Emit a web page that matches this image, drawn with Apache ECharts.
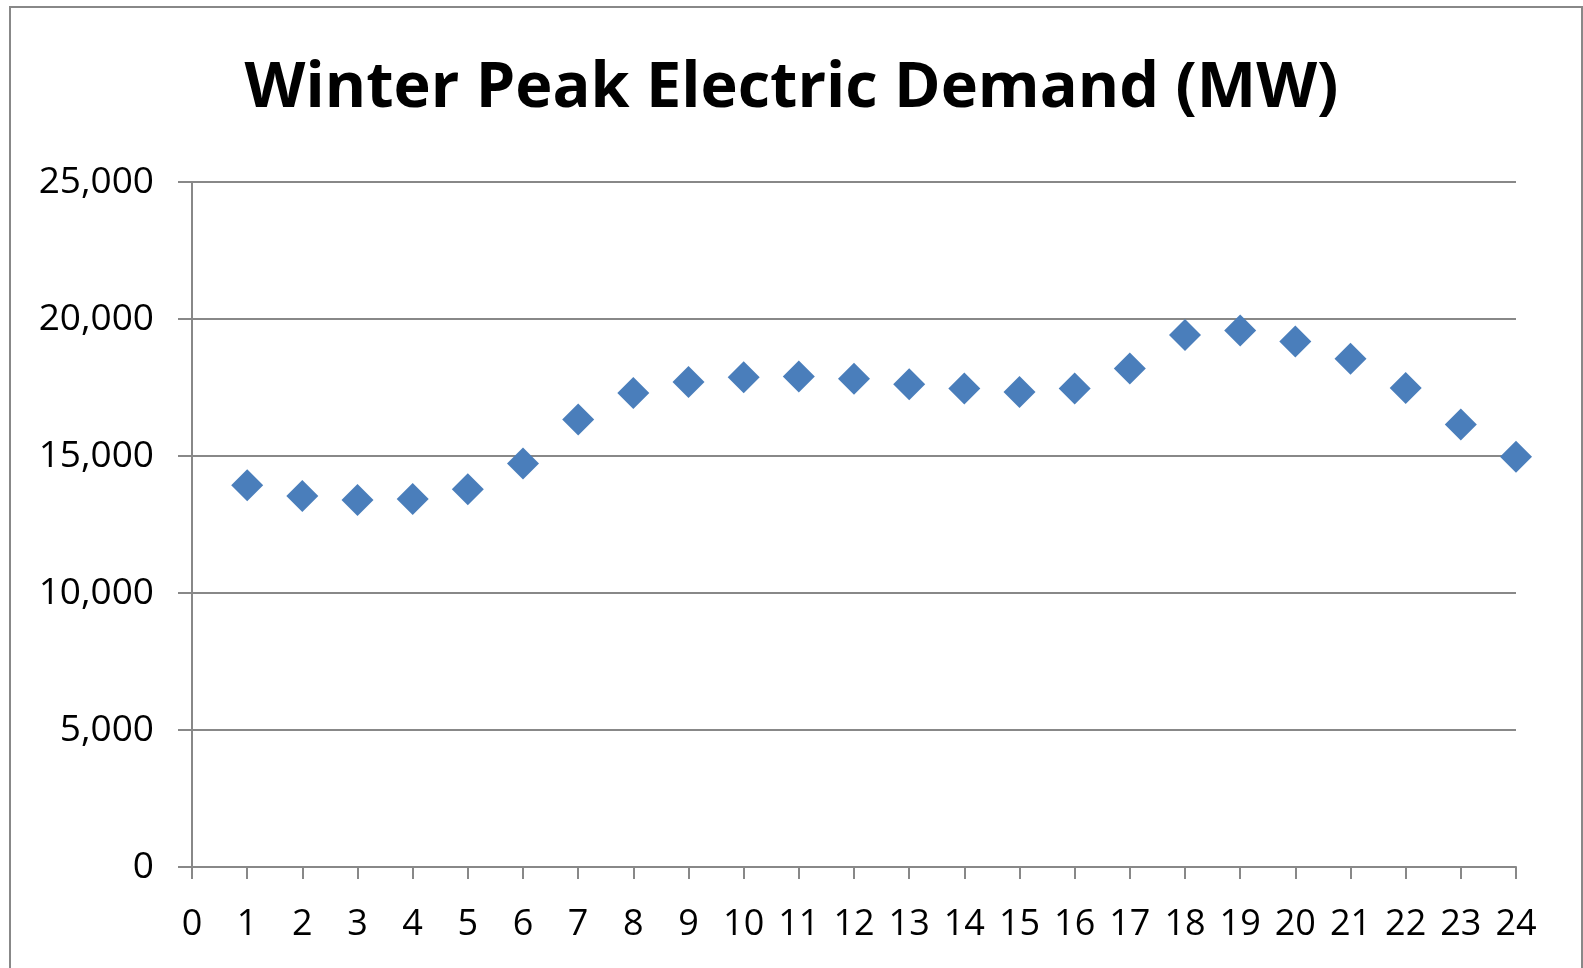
<!DOCTYPE html>
<html>
<head>
<meta charset="utf-8">
<script src="https://cdn.jsdelivr.net/npm/echarts@6/dist/echarts.min.js"></script>
<style>
html, body { margin: 0; padding: 0; background: #fff; }
#container { width: 1583px; height: 968px; }
</style>
</head>
<body>
<div id="container"></div>
<script>
var hours = [1, 2, 3, 4, 5, 6, 7, 8, 9, 10, 11, 12, 13, 14, 15, 16, 17, 18, 19, 20, 21, 22, 23, 24];
var demandMW = [13930, 13540, 13390, 13430, 13790, 14730, 16330, 17300, 17700, 17870, 17900, 17820,
                17620, 17460, 17340, 17460, 18190, 19420, 19580, 19180, 18550, 17480, 16150, 14970];
var titleText = 'Winter Peak Electric Demand (MW)';

var dom = document.getElementById("container");
var myChart = echarts.init(dom);
var option = null;

var points = hours.map(function (h, i) { return [h, demandMW[i]]; });

option = {
    animation: false,
    textStyle: {
        fontFamily: 'Open Sans'
    },
    graphic: [
        {
            type: 'rect',
            shape: {x: 10, y: 7, width: 1572, height: 980},
            style: {fill: 'none', stroke: '#888888', lineWidth: 2},
            silent: true
        }
    ],
    title: {
        text: titleText,
        left: 'center',
        top: 58,
        padding: 0,
        textStyle: {
            fontFamily: 'Open Sans',
            fontWeight: 'bold',
            fontSize: 63,
            color: '#000'
        }
    },
    grid: {
        left: 192,
        right: 67,
        top: 182,
        bottom: 101
    },
    xAxis: {
        type: 'value',
        min: 0,
        max: 24,
        interval: 1,
        axisLine: {
            show: true,
            onZero: false,
            lineStyle: {color: '#888888', width: 2}
        },
        axisTick: {
            show: true,
            inside: false,
            length: 12,
            lineStyle: {color: '#888888', width: 2}
        },
        splitLine: {show: false},
        axisLabel: {
            color: '#000',
            fontSize: 36,
            margin: 40
        }
    },
    yAxis: {
        type: 'value',
        min: 0,
        max: 25000,
        interval: 5000,
        axisLine: {
            show: true,
            lineStyle: {color: '#888888', width: 2}
        },
        axisTick: {
            show: true,
            length: 14,
            lineStyle: {color: '#888888', width: 2}
        },
        splitLine: {
            show: true,
            lineStyle: {color: '#888888', width: 2}
        },
        axisLabel: {
            color: '#000',
            fontSize: 37,
            margin: 38,
            formatter: function (v) { return v.toLocaleString('en-US'); }
        }
    },
    series: [
        {
            name: 'Demand',
            type: 'scatter',
            symbol: 'diamond',
            symbolSize: 32,
            itemStyle: {color: '#4a7ebb', opacity: 1},
            data: points
        }
    ]
};

if (option && typeof option === "object") {
    myChart.setOption(option, true);
}
</script>
</body>
</html>
